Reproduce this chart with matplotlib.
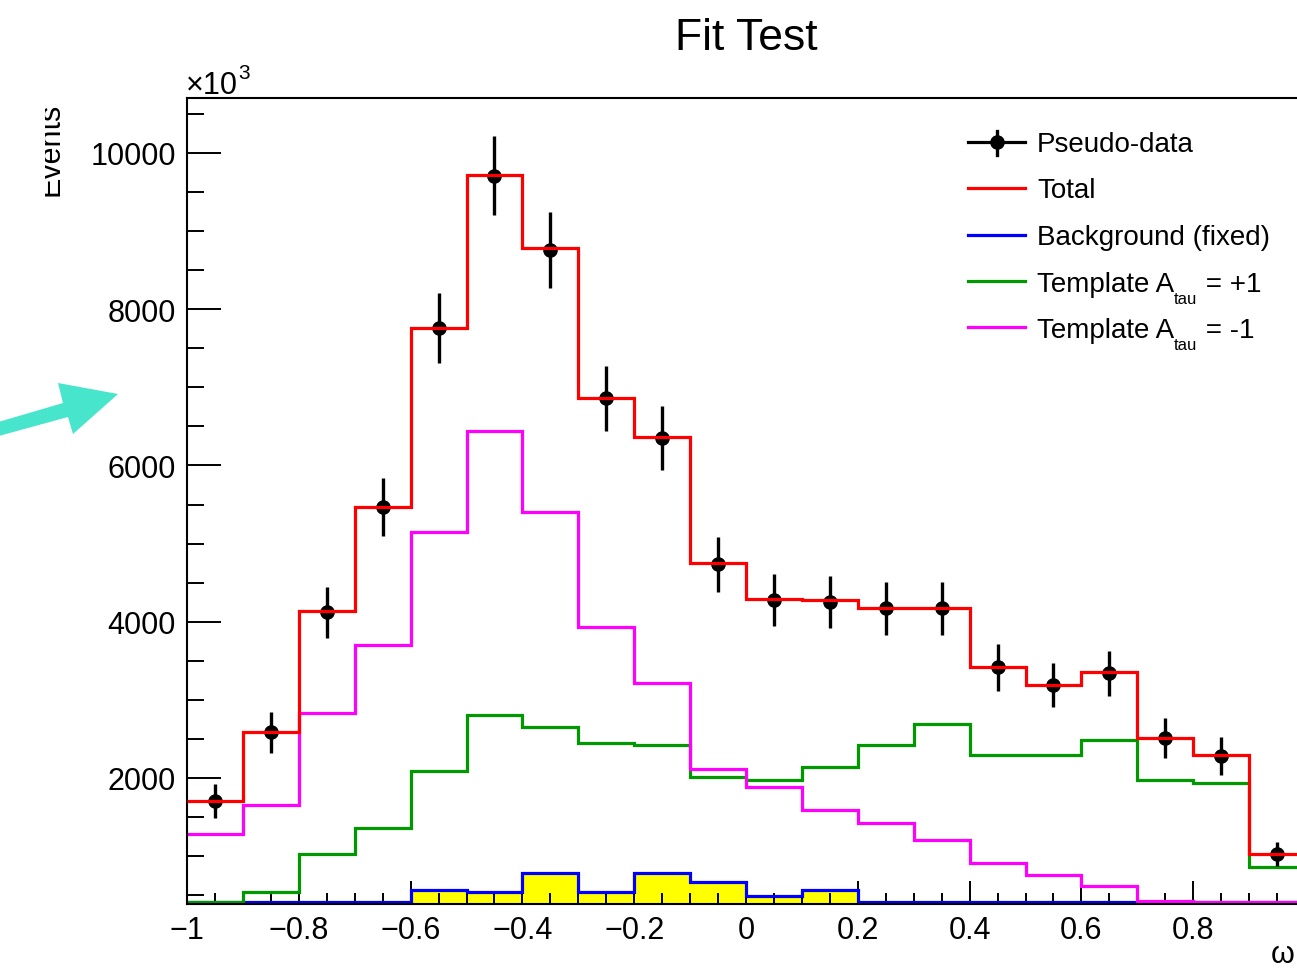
import numpy as np
import matplotlib
matplotlib.use('Agg')
import matplotlib.pyplot as plt
from matplotlib.lines import Line2D
from matplotlib.patches import Polygon
from matplotlib.ticker import FixedLocator, MultipleLocator
from matplotlib.transforms import Bbox, TransformedBbox

# ---------------- data ----------------
bin_edges = [-1.0, -0.9, -0.8, -0.7, -0.6, -0.5, -0.4, -0.3, -0.2, -0.1, 0.0,
             0.1, 0.2, 0.3, 0.4, 0.5, 0.6, 0.7, 0.8, 0.9, 1.0]
data_vals = [1706, 2585, 4121, 5465, 7760, 9709, 8758, 6860, 6346, 4733,
             4278, 4257, 4170, 4170, 3417, 3190, 3338, 2512, 2285, 1027]
data_errs = [213, 260, 326, 373, 448, 508, 484, 415, 410, 356,
             337, 334, 337, 337, 299, 284, 284, 256, 243, 150]
total_vals = [1706, 2585, 4142, 5473, 7760, 9722, 8780, 6864, 6369, 4748,
              4291, 4278, 4180, 4180, 3417, 3190, 3352, 2518, 2288, 1027]
bkg_vals = [0, 0, 0, 0, 570, 537, 780, 537, 780, 665,
            486, 570, 0, 0, 0, 0, 0, 0, 0, 0]
tpl_plus = [0, 537, 1027, 1360, 2086, 2810, 2649, 2448, 2426, 2009,
            1979, 2137, 2422, 2691, 2294, 2294, 2490, 1970, 1936, 867]
tpl_minus = [1283, 1658, 2832, 3706, 5153, 6437, 5401, 3937, 3216, 2115,
             1881, 1594, 1420, 1210, 912, 758, 621, 420, 0, 0]
xtick_vals = [-1.0, -0.8, -0.6, -0.4, -0.2, 0.0, 0.2, 0.4, 0.6, 0.8, 1.0]
xtick_labels = ['\u22121', '\u22120.8', '\u22120.6', '\u22120.4', '\u22120.2', '0',
                '0.2', '0.4', '0.6', '0.8', '']
ytick_vals = [2000, 4000, 6000, 8000, 10000]
ytick_labels = ['2000', '4000', '6000', '8000', '10000']
legend_labels = ['Pseudo-data', 'Total', 'Background (fixed)']

plt.rcParams['font.family'] = ['Liberation Sans', 'DejaVu Sans']

W, H, DPI = 1297, 978, 100
fig = plt.figure(figsize=(W / DPI, H / DPI), dpi=DPI)
fig.patch.set_facecolor('white')


def fx(px):
    return px / W


def fy(py):
    return 1 - py / H


# axes frame (right edge lies beyond the cropped picture)
AX_L, AX_R, AX_T, AX_B = 187, 1305, 99, 905
ax = fig.add_axes([fx(AX_L), fy(AX_B), (AX_R - AX_L) / W, (AX_B - AX_T) / H])
YMIN, YMAX = 387, 10704
ax.set_xlim(-1, 1)
ax.set_ylim(YMIN, YMAX)

edges = np.array(bin_edges)
centers = 0.5 * (edges[:-1] + edges[1:])


def floor(v):
    # ROOT draws empty / below-range bins along the bottom of the frame
    return np.maximum(np.asarray(v, float), YMIN + 24)


LW = 2.3
ax.stairs(bkg_vals, edges, baseline=0, fill=True, color='#ffff00', lw=0, zorder=1.5)
ax.stairs(floor(bkg_vals), edges, baseline=None, color='#0000ff', lw=LW, zorder=2)
ax.stairs(floor(tpl_plus), edges, baseline=None, color='#009900', lw=LW, zorder=2.1)
ax.stairs(floor(tpl_minus), edges, baseline=None, color='#ff00ff', lw=LW, zorder=2.2)
ax.errorbar(centers, data_vals, yerr=data_errs, fmt='o', color='black', ms=9.5,
            elinewidth=2.4, capsize=0, zorder=3)
ax.stairs(floor(total_vals), edges, baseline=None, color='#ff0000', lw=LW, zorder=4)

# ticks
ax.xaxis.set_major_locator(FixedLocator(xtick_vals))
ax.set_xticklabels(xtick_labels)
ax.xaxis.set_minor_locator(MultipleLocator(0.05))
ax.yaxis.set_major_locator(FixedLocator(ytick_vals))
ax.set_yticklabels(ytick_labels)
ax.yaxis.set_minor_locator(MultipleLocator(500))
ax.tick_params(axis='x', which='major', direction='in', length=16.5, width=1.4,
               labelsize=22, pad=8, top=False)
ax.tick_params(axis='x', which='minor', direction='in', length=8, width=1.4, top=False)
ax.tick_params(axis='y', which='major', direction='in', length=24.5, width=1.4,
               labelsize=22, pad=8, right=False)
ax.tick_params(axis='y', which='minor', direction='in', length=12, width=1.4, right=False)
for s in ax.spines.values():
    s.set_linewidth(1.5)

# title
fig.text(fx(746), fy(50), 'Fit Test', fontsize=32, ha='center', va='baseline')

# x10^3 multiplier
t10 = fig.text(fx(186), fy(94), '\u00d710', fontsize=22, va='baseline')
ax.annotate('3', xy=(1, fy(79)), xycoords=(t10, 'figure fraction'), fontsize=15,
            va='baseline', ha='left', annotation_clip=False)

# y title (clipped at the left as in the reference)
ev = fig.text(fx(66), fy(103), 'Events', rotation=90, ha='right', va='top', fontsize=22)
ev.set_clip_box(TransformedBbox(Bbox([[fx(45), 0], [1, 1]]), fig.transFigure))
ev.set_clip_on(True)

# x title (partly outside the cropped picture)
fig.text(fx(1271), fy(963), '\u03c9', fontsize=22, va='baseline')

# legend (drawn by hand, no border, as ROOT does)
LX0, LX1, TX = 968, 1025, 1037
rows = [143, 189, 236, 282, 328]
colors = ['black', '#ff0000', '#0000ff', '#009900', '#ff00ff']
for y, c in zip(rows, colors):
    fig.add_artist(Line2D([fx(LX0), fx(LX1)], [fy(y), fy(y)], color=c, lw=LW))
midx = 0.5 * (LX0 + LX1)
fig.add_artist(Line2D([fx(midx), fx(midx)], [fy(rows[0] - 11), fy(rows[0] + 13)],
                      color='black', lw=2.4))
fig.add_artist(Line2D([fx(midx)], [fy(rows[0])], color='black', marker='o', ms=9.5, lw=0))
for y, lab in zip(rows[:3], legend_labels):
    fig.text(fx(TX), fy(y + 9.5), lab, fontsize=20, va='baseline')
for y, tail in zip(rows[3:], [' = +1', ' = -1']):
    base = y + 9.5
    t1 = fig.text(fx(TX), fy(base), 'Template A', fontsize=20, va='baseline')
    t2 = ax.annotate('tau', xy=(1, fy(base + 13)), xycoords=(t1, 'figure fraction'),
                     fontsize=12, va='baseline', ha='left', annotation_clip=False)
    ax.annotate(tail, xy=(1, fy(base)), xycoords=(t2, 'figure fraction'),
                fontsize=20, va='baseline', ha='left', annotation_clip=False)

# turquoise pointer arrow on the left
arrow_px = [(-5, 424), (63, 404), (58, 384), (118, 395), (73, 435), (68, 418), (-5, 438)]
fig.add_artist(Polygon([(fx(x), fy(y)) for x, y in arrow_px], closed=True,
                       transform=fig.transFigure, facecolor='#47e5cc', edgecolor='none'))

fig.savefig('out.png', dpi=DPI)
